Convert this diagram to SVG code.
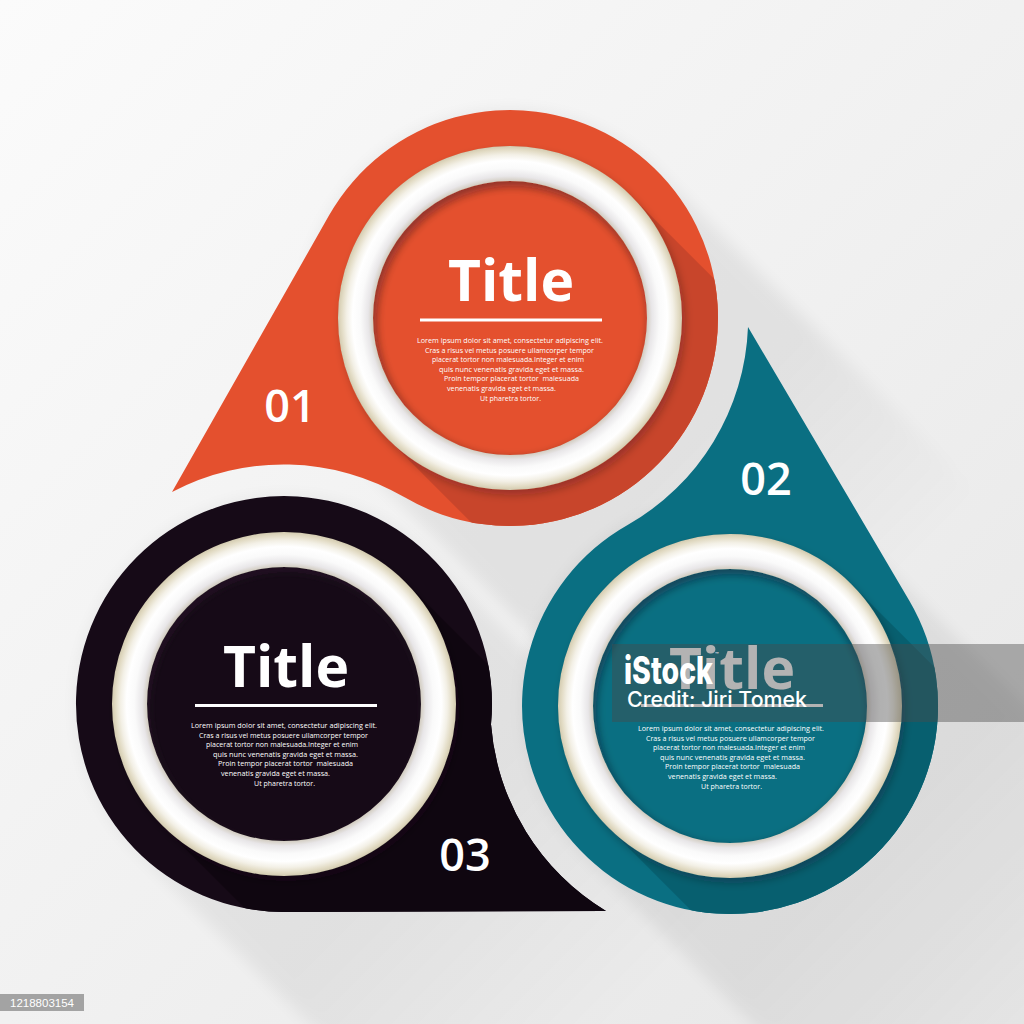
<svg xmlns="http://www.w3.org/2000/svg" width="1024" height="1024" viewBox="0 0 1024 1024">
<defs>
  <style>
    .title{font-family:"Open Sans","Liberation Sans",sans-serif;font-weight:700;font-size:57px;fill:#fff;text-anchor:middle}
    .body{font-family:"Open Sans","Liberation Sans",sans-serif;font-size:8px;fill:#fff;text-anchor:middle}
    .num{font-family:"Open Sans","Liberation Sans",sans-serif;font-weight:600;font-size:45px;fill:#fff;text-anchor:middle}
    .ul{fill:#fff}
    .wm{font-family:Inter,"Open Sans",sans-serif;fill:#fff}
  </style>
  <linearGradient id="bg" x1="0" y1="0" x2="1" y2="1">
    <stop offset="0" stop-color="#fbfbfb"/>
    <stop offset="0.55" stop-color="#f0f0f0"/>
    <stop offset="1" stop-color="#e6e6e6"/>
  </linearGradient>
  <linearGradient id="lsGrad" gradientUnits="userSpaceOnUse" x1="0" y1="0" x2="330" y2="330">
    <stop offset="0" stop-color="#fff"/>
    <stop offset="0.45" stop-color="#fff"/>
    <stop offset="1" stop-color="#000"/>
  </linearGradient>
  <radialGradient id="ring" gradientUnits="userSpaceOnUse" cx="0" cy="0" r="172">
    <stop offset="0.796" stop-color="#d2ccc0"/>
    <stop offset="0.825" stop-color="#e8e6e8"/>
    <stop offset="0.87" stop-color="#fafafa"/>
    <stop offset="0.915" stop-color="#ffffff"/>
    <stop offset="0.95" stop-color="#f3f0e6"/>
    <stop offset="0.98" stop-color="#e2dbc4"/>
    <stop offset="1" stop-color="#d3cbb0"/>
  </radialGradient>
  <filter id="soft" x="-30%" y="-30%" width="160%" height="160%"><feGaussianBlur stdDeviation="8"/></filter>
  <filter id="blur4" x="-20%" y="-20%" width="140%" height="140%"><feGaussianBlur stdDeviation="4"/></filter>
  <filter id="ringSh" x="-20%" y="-20%" width="140%" height="140%"><feDropShadow dx="3" dy="5" stdDeviation="4" flood-color="#1a1020" flood-opacity="0.28"/></filter>
  <mask id="lsMask" maskUnits="userSpaceOnUse" x="-800" y="-800" width="2000" height="2000">
    <g filter="url(#soft)" fill="url(#lsGrad)">
      <circle r="208"/>
      <path d="M147.1,-147.1 L477.1,182.9 L182.9,477.1 L-147.1,147.1 Z"/>
    </g>
  </mask>
  <path id="ringSweep" d="M121.6,-121.6 L521.6,278.4 L278.4,521.6 L-121.6,121.6 Z"/>
  <clipPath id="clipOrange"><path d="M-338,174 L-180.9,-102.7 A208,208 0 1 1 -104.9,179.6 A239.3,239.3 0 0 0 -338,174 Z"/></clipPath>
  <clipPath id="clipTeal"><path d="M18,-379 L179.2,-105.6 A208,208 0 1 1 -102.4,-181 A238,238 0 0 0 18,-379 Z"/></clipPath>
  <clipPath id="clipDark"><path d="M322,207 A239.6,239.6 0 0 1 207,20.2 A208,208 0 1 0 0,208 Z"/></clipPath>
  <clipPath id="disc"><circle r="137"/></clipPath>
</defs>

<rect width="1024" height="1024" fill="url(#bg)"/>

<g id="shadows">
  <g transform="translate(510,318)"><rect x="-800" y="-800" width="2000" height="2000" fill="#000" opacity="0.06" mask="url(#lsMask)"/></g>
  <g transform="translate(730,706)"><rect x="-800" y="-800" width="2000" height="2000" fill="#000" opacity="0.06" mask="url(#lsMask)"/></g>
  <g transform="translate(284,704)"><rect x="-800" y="-800" width="2000" height="2000" fill="#000" opacity="0.05" mask="url(#lsMask)"/></g>
</g>

<g id="connectors"></g>

<g id="node1" transform="translate(510,318)">
  <path fill="#E4502E" d="M-338,174 L-180.9,-102.7 A208,208 0 1 1 -104.9,179.6 A239.3,239.3 0 0 0 -338,174 Z"/>
  <g clip-path="url(#clipOrange)" fill="#C8452B">
    <circle r="172"/>
    <use href="#ringSweep"/>
  </g>
  <circle r="137" fill="#E4502E"/>
  <g clip-path="url(#disc)"><circle cx="2" cy="4" r="141" fill="none" stroke="#2a2030" stroke-opacity="0.25" stroke-width="10" filter="url(#blur4)"/></g>
  <circle r="154.5" fill="none" stroke="url(#ring)" stroke-width="35" filter="url(#ringSh)"/>
  <text class="title" x="1" y="-17">Title</text>
  <rect class="ul" x="-90" y="0.5" width="182" height="3"/>
  <text class="body" x="0" y="25" textLength="186" lengthAdjust="spacingAndGlyphs">Lorem ipsum dolor sit amet, consectetur adipiscing elit.</text>
  <text class="body" x="-0.5" y="34.6" textLength="169" lengthAdjust="spacingAndGlyphs">Cras a risus vel metus posuere ullamcorper tempor</text>
  <text class="body" x="-2" y="44.2" textLength="152" lengthAdjust="spacingAndGlyphs">placerat tortor non malesuada.Integer et enim</text>
  <text class="body" x="1.5" y="53.8" textLength="145" lengthAdjust="spacingAndGlyphs">quis nunc venenatis gravida eget et massa.</text>
  <text class="body" x="1.5" y="63.4" textLength="135" lengthAdjust="spacingAndGlyphs" xml:space="preserve">Proin tempor placerat tortor  malesuada</text>
  <text class="body" x="-8.5" y="73" textLength="109" lengthAdjust="spacingAndGlyphs">venenatis gravida eget et massa.</text>
  <text class="body" x="0.5" y="82.6" textLength="61" lengthAdjust="spacingAndGlyphs">Ut pharetra tortor.</text>
  <text class="num" x="-220" y="104">01</text>
</g>

<g id="node2" transform="translate(730,706)">
  <path fill="#0A6F82" d="M18,-379 L179.2,-105.6 A208,208 0 1 1 -102.4,-181 A238,238 0 0 0 18,-379 Z"/>
  <g clip-path="url(#clipTeal)" fill="#075F6F">
    <circle r="172"/>
    <use href="#ringSweep"/>
  </g>
  <circle r="137" fill="#0A6F82"/>
  <g clip-path="url(#disc)"><circle cx="2" cy="4" r="141" fill="none" stroke="#1a2030" stroke-opacity="0.25" stroke-width="10" filter="url(#blur4)"/></g>
  <circle r="154.5" fill="none" stroke="url(#ring)" stroke-width="35" filter="url(#ringSh)"/>
  <text class="title" x="2" y="-17">Title</text>
  <rect class="ul" x="-89" y="-2" width="182" height="3"/>
  <text class="body" x="1" y="25" textLength="186" lengthAdjust="spacingAndGlyphs">Lorem ipsum dolor sit amet, consectetur adipiscing elit.</text>
  <text class="body" x="0.5" y="34.6" textLength="169" lengthAdjust="spacingAndGlyphs">Cras a risus vel metus posuere ullamcorper tempor</text>
  <text class="body" x="-1" y="44.2" textLength="152" lengthAdjust="spacingAndGlyphs">placerat tortor non malesuada.Integer et enim</text>
  <text class="body" x="2.5" y="53.8" textLength="145" lengthAdjust="spacingAndGlyphs">quis nunc venenatis gravida eget et massa.</text>
  <text class="body" x="2.5" y="63.4" textLength="135" lengthAdjust="spacingAndGlyphs" xml:space="preserve">Proin tempor placerat tortor  malesuada</text>
  <text class="body" x="-7.5" y="73" textLength="109" lengthAdjust="spacingAndGlyphs">venenatis gravida eget et massa.</text>
  <text class="body" x="1.5" y="82.6" textLength="61" lengthAdjust="spacingAndGlyphs">Ut pharetra tortor.</text>
  <text class="num" x="36" y="-211">02</text>
</g>

<g id="node3" transform="translate(284,704)">
  <path fill="#160A17" d="M322,207 A239.6,239.6 0 0 1 207,20.2 A208,208 0 1 0 0,208 Z"/>
  <g clip-path="url(#clipDark)" fill="#0F0610">
    <circle r="172"/>
    <use href="#ringSweep"/>
  </g>
  <circle r="137" fill="#160A17"/>
  <g clip-path="url(#disc)"><circle cx="2" cy="4" r="141" fill="none" stroke="#4a4050" stroke-opacity="0.2" stroke-width="10" filter="url(#blur4)"/></g>
  <circle r="154.5" fill="none" stroke="url(#ring)" stroke-width="35" filter="url(#ringSh)"/>
  <text class="title" x="2" y="-17">Title</text>
  <rect class="ul" x="-89" y="0" width="182" height="3"/>
  <text class="body" x="0" y="24" textLength="186" lengthAdjust="spacingAndGlyphs">Lorem ipsum dolor sit amet, consectetur adipiscing elit.</text>
  <text class="body" x="-0.5" y="33.6" textLength="169" lengthAdjust="spacingAndGlyphs">Cras a risus vel metus posuere ullamcorper tempor</text>
  <text class="body" x="-2" y="43.2" textLength="152" lengthAdjust="spacingAndGlyphs">placerat tortor non malesuada.Integer et enim</text>
  <text class="body" x="1.5" y="52.8" textLength="145" lengthAdjust="spacingAndGlyphs">quis nunc venenatis gravida eget et massa.</text>
  <text class="body" x="1.5" y="62.4" textLength="135" lengthAdjust="spacingAndGlyphs" xml:space="preserve">Proin tempor placerat tortor  malesuada</text>
  <text class="body" x="-8.5" y="72" textLength="109" lengthAdjust="spacingAndGlyphs">venenatis gravida eget et massa.</text>
  <text class="body" x="0.5" y="81.6" textLength="61" lengthAdjust="spacingAndGlyphs">Ut pharetra tortor.</text>
  <text class="num" x="181" y="167">03</text>
</g>

<g id="watermark">
  <rect x="612" y="644" width="412" height="78" fill="#4a4a4a" fill-opacity="0.42"/>
  <text class="wm" x="624" y="684" font-weight="800" font-size="38" textLength="89" lengthAdjust="spacingAndGlyphs">iStock</text>
  <text class="wm" x="715" y="657" font-size="6">™</text>
  <text class="wm" x="627" y="707" font-weight="500" font-size="21" textLength="180" lengthAdjust="spacingAndGlyphs">Credit: Jiri Tomek</text>
</g>

<g id="stock-id">
  <rect x="0" y="994" width="84" height="17" fill="#a3a3a3"/>
  <text x="42" y="1007" text-anchor="middle" font-family="Liberation Sans, Arial, sans-serif" font-size="11.5" fill="#fff">1218803154</text>
</g>
</svg>
